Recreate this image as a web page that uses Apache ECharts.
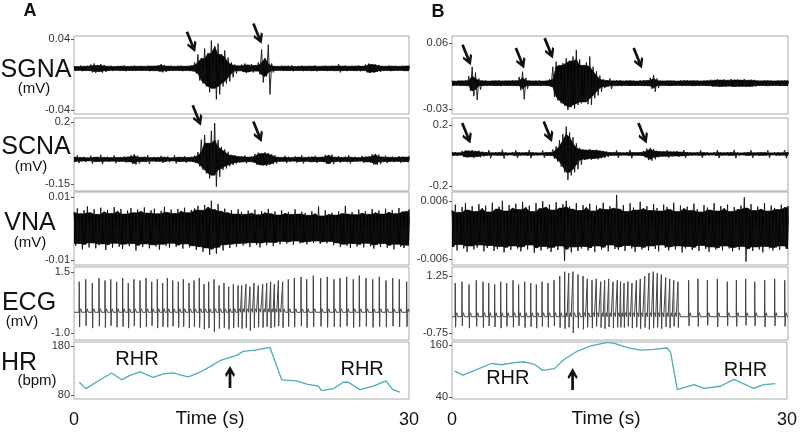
<!DOCTYPE html>
<html><head><meta charset="utf-8">
<script src="https://cdn.jsdelivr.net/npm/echarts@6/dist/echarts.min.js"></script>
<style>html,body{margin:0;padding:0;background:#fff}#c{width:800px;height:435px}</style>
</head><body><div id="c"></div>
<script>
// ---------- DATA ----------
const binStep = 0.3; // seconds between envelope samples (101 samples over 0..30 s)

// Panel A – nerve activity envelopes (mV), upper / lower edge per sample
const sgnaHiA = [.0098,.0092,.0104,.0095,.0100, .0115,.0126,.0104,.0120,.0110,
 .0096,.0102,.0092,.0100,.0097,.0104,.0093,.0099,.0102,.0095,
 .0100,.0094,.0103,.0097,.0099,.0105, .0120,.0110,
 .0097,.0101,.0094,.0100,.0103,.0096,.0099,.0105,
 .0138,.0228,.0183,.0295,.0239,.0386,.0318,.0352,.0228,.0273,.0194,.0138,.0115,
 .0100, .0115,.0126,.0110,.0120, .0104, .0138,.0284,.0183,.0340,.0126,
 .0098,.0094,.0102,.0096,.0100,.0105,.0093,.0099,.0103,.0095,.0100,.0097,.0104,.0094,.0099,.0102,.0096,.0100,.0098,
 .0120, .0097,.0103,.0095,.0100,.0098,.0104,.0096, .0115,.0126,.0120,.0115,.0110,
 .0099,.0095,.0103,.0097,.0100,.0094,.0102,.0098,.0100];
const sgnaLoA = [.0042,.0048,.0038,.0046,.0044, .0025,.0020,.0036,.0022,.0030,
 .0045,.0040,.0049,.0043,.0046,.0038,.0047,.0042,.0040,.0048,
 .0043,.0047,.0039,.0045,.0044,.0037, .0025,.0030,
 .0045,.0041,.0048,.0043,.0039,.0046,.0044,.0038,
 .0014,-.0065,-.0099,-.0133,-.0200,-.0155,-.0279,-.0223,-.0133,-.0099,-.0077,-.0031,.0014,
 .0043, .0030,.0020,.0030,.0025, .0040, .0002,-.0088,-.0020,-.0223,.0025,
 .0044,.0048,.0040,.0046,.0043,.0038,.0047,.0042,.0039,.0046,.0044,.0041,.0037,.0047,.0043,.0040,.0046,.0044,.0042,
 .0025, .0045,.0039,.0047,.0043,.0044,.0038,.0046, .0025,.0020,.0022,.0030,.0030,
 .0043,.0047,.0039,.0045,.0043,.0048,.0040,.0044,.0043];

const scnaHiA = [.002,.012,.000,.004,-.002,.010,.001,.003,.015,.000,
 .004,-.001,.011,.002,.000,.006,.003, .012,.018,.010,
 .001,.004,.013,-.001,.003,.000,.009,.002,.005,-.002,.012,.003,.001,.008,.000,.004,.010,
 .030,.100,.127,.080,.150,.193,.098,.060,.045,.032,.014,.012,.008,
 .004,.011,.002,.006, .020,.027,.022,.029,.025,.018,.012,
 .003,.000,.010,.004,-.001,.007,.002,.012,.000,.005,.003,.009,.001,.004,
 .015,.013,.016, .002,.008,.000,.005,.012,.001,.004,-.001,.009,.003,.006,
 .018,.020,.016, .003,.010,.001,.005,.000,.008,.004,.002,.006];
const scnaLoA = [-.024,-.032,-.021,-.026,-.020,-.035,-.023,-.025,-.038,-.022,
 -.026,-.021,-.033,-.024,-.022,-.028,-.025, -.036,-.040,-.034,
 -.023,-.027,-.036,-.021,-.025,-.022,-.031,-.024,-.027,-.020,-.034,-.025,-.023,-.030,-.022,-.026,-.032,
 -.050,-.070,-.090,-.118,-.100,-.165,-.109,-.070,-.062,-.050,-.043,-.035,-.030,
 -.026,-.033,-.024,-.028, -.040,-.043,-.045,-.048,-.042,-.038,-.034,
 -.025,-.022,-.032,-.026,-.021,-.029,-.024,-.034,-.022,-.027,-.025,-.031,-.023,-.026,
 -.037,-.035,-.038, -.024,-.030,-.022,-.027,-.034,-.023,-.026,-.021,-.031,-.025,-.028,
 -.040,-.042,-.038, -.025,-.032,-.023,-.027,-.022,-.030,-.026,-.024,-.028];

const vnaHiA = [.0052,.0064,.0047,.0058,.0070,.0050,.0061,.0045,.0066,.0053,
 .0059,.0048,.0068,.0055,.0062,.0046,.0057,.0065,.0050,.0060,
 .0054,.0067,.0049,.0058,.0063,.0047,.0056,.0069,.0051,.0060,
 .0048,.0062,.0055,.0066,.0050,.0059,.0064,.0072,.0058,.0075,
 .0068,.0088,.0060,.0078,.0055,.0063,.0050,.0058,.0046,.0061,
 .0053,.0045,.0057,.0049,.0060,.0044,.0055,.0050,.0062,.0047,
 .0054,.0043,.0058,.0048,.0052,.0045,.0061,.0046,.0053,.0049,
 .0042,.0055,.0047,.0070,.0040,.0058,.0045,.0050,.0043,.0054,
 .0048,.0072,.0046,.0052,.0044,.0060,.0049,.0055,.0045,.0062,
 .0050,.0057,.0046,.0063,.0052,.0058,.0047,.0065,.0053,.0056,.0060];
const vnaLoA = [-.0055,-.0048,-.0066,-.0051,-.0060,-.0046,-.0063,-.0053,-.0049,-.0068,
 -.0052,-.0061,-.0047,-.0058,-.0065,-.0050,-.0056,-.0048,-.0070,-.0054,
 -.0059,-.0049,-.0063,-.0052,-.0057,-.0067,-.0050,-.0055,-.0061,-.0047,
 -.0058,-.0053,-.0064,-.0049,-.0060,-.0055,-.0068,-.0058,-.0074,-.0062,
 -.0084,-.0066,-.0080,-.0060,-.0070,-.0052,-.0062,-.0050,-.0058,-.0048,
 -.0054,-.0047,-.0059,-.0045,-.0052,-.0060,-.0046,-.0053,-.0044,-.0056,
 -.0045,-.0050,-.0041,-.0048,-.0043,-.0052,-.0040,-.0047,-.0044,-.0050,
 -.0042,-.0046,-.0040,-.0049,-.0043,-.0047,-.0041,-.0053,-.0046,-.0058,
 -.0050,-.0055,-.0062,-.0048,-.0057,-.0051,-.0060,-.0047,-.0056,-.0064,
 -.0052,-.0059,-.0048,-.0061,-.0054,-.0066,-.0050,-.0058,-.0062,-.0053,-.0057];

// Panel B – nerve activity envelopes (mV)
const sgnaHiB = [.0090,.0085,.0095,.0088,.0092, .0150,.0280,.0200,.0120,
 .0090,.0096,.0086,.0093,.0089,.0097,.0087,.0092,.0088,.0095,.0090,
 .0140,.0213,.0130, .0094,.0087,.0091,.0098,.0086,.0092,.0110,
 .0280,.0350,.0300,.0330,.0396,.0360,.0420,.0510,.0380,.0300,.0340,.0420,.0280,.0220,.0160,
 .0110,.0095,.0120,.0088,.0093,.0100,.0087,.0096,.0090,.0094,.0086,.0098,.0091,.0095,
 .0130,.0168,.0120,
 .0092,.0087,.0095,.0089,.0093,.0086,.0097,.0090,.0094,.0088,.0092,.0096,.0087,.0093,.0090,
 .0105,.0098,.0110,.0100,.0108,.0096,.0112,.0101,.0106,.0099,.0110,.0097,.0104,.0102,
 .0092,.0088,.0095,.0090,.0093,.0087,.0096,.0089,.0092,.0090];
const sgnaLoB = [.0022,.0027,.0018,.0024,.0020, -.0050,-.0120,-.0173,-.0030,
 .0022,.0017,.0026,.0020,.0023,.0016,.0025,.0021,.0024,.0018,.0022,
 -.0040,-.0164,-.0020, .0019,.0025,.0021,.0016,.0026,.0020,.0005,
 -.0128,-.0180,-.0218,-.0250,-.0310,-.0270,-.0290,-.0240,-.0220,-.0200,-.0230,-.0240,-.0150,-.0110,-.0060,
 -.0010,.0010,-.0020,.0022,.0018,.0015,.0025,.0019,.0023,.0017,.0024,.0020,.0022,.0018,
 -.0020,-.0060,-.0010,
 .0021,.0025,.0018,.0023,.0020,.0026,.0017,.0022,.0024,.0019,.0021,.0016,.0025,.0020,.0022,
 .0010,.0015,.0005,.0012,.0008,.0016,.0004,.0011,.0007,.0014,.0006,.0013,.0009,.0012,
 .0020,.0024,.0018,.0022,.0019,.0025,.0021,.0023,.0018,.0022];

const scnaHiB = [.020,.022,.018,.030, .032,.030,.036,.028,.032,.025,
 .020,.035,.018,.022,.019,.038,.021,.017,.023,.034,.020,.018,.022,.036,.019,.021,.017,.033,.022,.020,.040,
 .060,.100,.140,.189,.150,.120,.080,.050,
 .040,.036,.042,.034,.038,.032,.030,.026,
 .022,.019,.034,.021,.018,.023,.037,.020,.019,.022,
 .030,.045,.050,.042,.030,
 .028,.025,.034,.026,.024,.029,.023,.036,.021,
 .020,.018,.022,.035,.019,.021,.017,.023,.036,.020,.018,.022,.019,.037,.021,
 .017,.023,.020,.035,.018,.022,.019,.021,.034,.017,.023,.020,.018,.036,.021];
const scnaLoB = [.000,-.003,.002,-.010, -.012,-.010,-.016,-.008,-.012,-.006,
 .000,-.018,.002,-.002,.001,-.020,-.001,.003,-.003,-.016,.000,.002,-.002,-.018,.001,-.001,.003,-.015,-.002,.000,-.020,
 -.040,-.073,-.110,-.160,-.130,-.110,-.090,-.060,
 -.030,-.024,-.028,-.020,-.025,-.018,-.015,-.010,
 -.002,.001,-.016,-.001,.002,-.003,-.018,.000,.001,-.002,
 -.012,-.030,-.034,-.025,-.012,
 -.008,-.005,-.015,-.006,-.004,-.010,-.003,-.016,-.001,
 .000,.002,-.002,-.016,.001,-.001,.003,-.003,-.017,.000,.002,-.002,.001,-.018,-.001,
 .003,-.003,.000,-.016,.002,-.002,.001,-.001,-.015,.003,-.003,.000,.002,-.017,-.001];

const vnaHiB = [.0040,.0052,.0036,.0047,.0055,.0041,.0049,.0038,.0053,.0044,
 .0050,.0037,.0056,.0043,.0048,.0060,.0039,.0051,.0045,.0054,
 .0042,.0058,.0046,.0050,.0038,.0055,.0044,.0059,.0047,.0052,
 .0041,.0057,.0045,.0053,.0060,.0048,.0043,.0055,.0040,.0051,
 .0046,.0054,.0039,.0050,.0044,.0056,.0042,.0049,.0045,.0072,
 .0043,.0051,.0038,.0055,.0046,.0041,.0058,.0044,.0049,.0040,
 .0053,.0045,.0039,.0052,.0047,.0042,.0056,.0038,.0050,.0044,
 .0048,.0040,.0054,.0043,.0037,.0051,.0046,.0041,.0055,.0039,
 .0049,.0044,.0052,.0038,.0047,.0042,.0050,.0067,.0045,.0053,
 .0040,.0048,.0043,.0055,.0039,.0050,.0045,.0042,.0052,.0046,.0049];
const vnaLoB = [-.0035,-.0042,-.0030,-.0038,-.0045,-.0033,-.0040,-.0036,-.0031,-.0044,
 -.0037,-.0032,-.0043,-.0039,-.0034,-.0046,-.0036,-.0041,-.0033,-.0038,
 -.0044,-.0035,-.0040,-.0031,-.0047,-.0037,-.0042,-.0034,-.0039,-.0045,
 -.0036,-.0041,-.0033,-.0063,-.0040,-.0046,-.0035,-.0043,-.0038,-.0034,
 -.0042,-.0037,-.0045,-.0033,-.0040,-.0036,-.0044,-.0031,-.0039,-.0041,
 -.0035,-.0043,-.0032,-.0038,-.0045,-.0034,-.0040,-.0036,-.0042,-.0033,
 -.0039,-.0044,-.0031,-.0037,-.0042,-.0035,-.0040,-.0033,-.0046,-.0038,
 -.0034,-.0041,-.0036,-.0043,-.0032,-.0039,-.0045,-.0035,-.0040,-.0037,
 -.0042,-.0033,-.0038,-.0044,-.0036,-.0041,-.0034,-.0065,-.0039,-.0043,
 -.0035,-.0040,-.0046,-.0034,-.0038,-.0042,-.0036,-.0041,-.0033,-.0039,-.0044];

// ECG beats: R-wave times (s), R peak and S trough amplitudes (mV)
const ecgTimesA = [0.47,1.05,1.64,2.24,2.78,3.29,3.82,4.36,4.86,5.37,
 5.91,6.45,6.96,7.46,7.94,8.36,8.84,9.34,9.79,10.30,
 10.75,11.22,11.64,12.06,12.54,12.99,13.43,13.85,14.27,14.69,
 15.02,15.40,15.76,16.12,16.50,16.90,17.26,17.61,17.94,18.30,
 18.69,19.19,19.73,20.33,20.84,21.43,22.09,22.68,23.28,23.82,
 24.42,25.01,25.55,26.15,26.75,27.34,27.94,28.54,29.13,29.79];
const ecgPeaksA = [1.10,1.20,1.05,1.25,1.15,1.20,1.10,1.25,1.05,1.20,
 1.15,1.25,1.10,1.20,1.05,1.25,1.15,1.10,1.20,1.05,
 1.15,1.25,1.00,1.10,1.20,0.95,1.05,0.90,1.00,0.95,
 0.95,1.00,0.90,1.05,0.95,1.00,1.05,1.10,1.00,1.15,
 1.10,1.20,1.25,1.30,1.20,1.35,1.25,1.30,1.20,1.25,
 1.30,1.20,1.35,1.25,1.20,1.30,1.15,1.25,1.20,1.10];
const ecgTroughsA = [-0.75,-0.70,-0.80,-0.72,-0.78,-0.70,-0.76,-0.74,-0.80,-0.72,
 -0.78,-0.75,-0.70,-0.80,-0.74,-0.76,-0.72,-0.78,-0.75,-0.80,
 -0.74,-0.78,-0.85,-0.80,-0.95,-0.82,-0.78,-0.85,-0.80,-0.76,
 -0.82,-0.78,-0.90,-0.80,-0.76,-0.78,-0.74,-0.80,-0.76,-0.72,
 -0.78,-0.74,-0.76,-0.72,-0.78,-0.75,-0.73,-0.77,-0.74,-0.76,
 -0.72,-0.78,-0.75,-0.73,-0.77,-0.74,-0.76,-0.72,-0.75,-0.74];
const ecgBaseA = -0.15;

const ecgTimesB = [0.29,0.89,1.52,2.17,2.77,3.28,3.81,4.35,4.88,5.45,
 5.95,6.49,7.03,7.53,8.04,8.57,9.11,9.62,10.06,10.42,
 10.80,11.25,11.70,12.08,12.50,12.88,13.28,13.63,13.99,14.38,
 14.76,15.05,15.36,15.71,16.07,16.46,16.81,17.21,17.59,17.97,
 18.33,18.69,19.08,19.44,19.80,20.18,21.13,21.96,22.80,23.69,
 24.58,25.39,26.22,27.03,27.92,28.81,29.71];
const ecgPeaksB = [1.00,1.05,0.95,1.10,1.05,1.00,0.95,1.05,1.00,1.10,
 0.95,1.05,1.00,0.95,1.05,1.00,1.10,1.25,1.40,1.35,
 1.40,1.30,1.25,1.15,1.10,1.15,1.05,1.10,1.15,1.05,
 1.10,1.05,1.00,1.05,1.00,1.10,1.15,1.25,1.35,1.40,
 1.35,1.30,1.20,1.15,1.10,1.05,1.10,1.15,1.10,1.15,
 1.05,1.10,1.15,1.05,1.10,1.15,1.10];
const ecgTroughsB = [-0.55,-0.50,-0.58,-0.52,-0.56,-0.50,-0.54,-0.58,-0.52,-0.55,
 -0.50,-0.56,-0.53,-0.58,-0.52,-0.55,-0.50,-0.56,-0.60,-0.55,
 -0.75,-0.58,-0.62,-0.55,-0.58,-0.52,-0.56,-0.60,-0.54,-0.58,
 -0.55,-0.55,-0.56,-0.52,-0.58,-0.55,-0.60,-0.56,-0.62,-0.58,
 -0.55,-0.60,-0.54,-0.58,-0.52,-0.56,-0.50,-0.52,-0.48,-0.54,
 -0.50,-0.52,-0.48,-0.50,-0.54,-0.50,-0.52];
const ecgBaseB = -0.18;

// Heart rate (bpm) vs time (s)
const hrTimesA = [0.47,1.07,2.33,3.38,4.27,5.01,5.91,7.10,8.00,8.89,9.49,10.24,11.13,12.18,13.07,13.97,14.57,15.16,16.36,17.55,18.60,19.94,20.84,21.88,22.18,23.22,24.12,24.56,25.61,26.80,27.94,28.54,29.19];
const hrValuesA = [106,93,111,125,111,120,127,116,123,125,121,117,125,138,150,157,161,169,172,177,111,109,102,98,89,93,106,106,91,98,109,91,86];
const hrTimesB = [0.24,0.98,2.03,3.51,4.40,5.60,6.49,7.38,8.13,9.17,10.06,11.25,12.44,13.93,14.53,15.72,16.90,18.10,19.29,19.58,20.18,21.67,22.56,24.05,25.24,27.03,27.92,28.96];
const hrValuesB = [100,91,102,118,115,120,122,116,102,106,128,147,159,167,165,155,149,151,154,143,57,69,60,65,81,60,69,71];

// Annotations: [time (s), value]
const sgnaArrowsA = [[10.48,0.037],[16.43,0.0464]];
const scnaArrowsA = [[11.0,0.237],[16.43,0.145]];
const sgnaArrowsB = [[1.31,0.044],[6.07,0.0396],[8.64,0.0532],[16.59,0.0396]];
const scnaArrowsB = [[1.28,0.146],[8.56,0.156],[17.01,0.146]];
const hrArrowA = [[13.97,116.7]];
const hrArrowB = [[10.80,81.6]];
const rhrLabelsA = [[5.64,152.4],[25.8,132]];
const rhrLabelsB = [[5.0,82.8],[26.28,102.4]];

// Tick labels
const timeTicks = [0, 30];
const yTicksA = [[-0.04,0.04],[-0.15,0.2],[-0.01,0.01],[-1.0,1.5],[80,180]];
const yTickTextA = [['-0.04','0.04'],['-0.15','0.2'],['-0.01','0.01'],['-1.0','1.5'],['80','180']];
const yTicksB = [[-0.03,0.06],[-0.2,0.2],[-0.006,0.006],[-0.75,1.25],[40,160]];
const yTickTextB = [['-0.03','0.06'],['-0.2','0.2'],['-0.006','0.006'],['-0.75','1.25'],['40','160']];
const rowNames = ['SGNA','SCNA','VNA','ECG','HR'];
const rowUnits = ['(mV)','(mV)','(mV)','(mV)','(bpm)'];

// ---------- LAYOUT ----------
const FONT = '"Liberation Sans", Arial, sans-serif';
const rows = [ {top:36,h:78},{top:118,h:73},{top:192,h:73},{top:267,h:73},{top:342,h:57} ];
const panels = [{left:74,width:335},{left:452,width:336}];
const yRangeA = [[-0.0445,0.0437],[-0.1895,0.2226],[-0.0116,0.0116],[-1.287,1.705],[71.8,188.2]];
const yRangeB = [[-0.0364,0.070],[-0.233,0.246],[-0.0072,0.0078],[-0.996,1.566],[35.3,168]];

const grids=[], xAxes=[], yAxes=[], series=[];
[0,1].forEach(p=>{
  rows.forEach((r,ri)=>{
    const idx = p*5+ri;
    grids.push({left:panels[p].left, width:panels[p].width, top:r.top, height:r.h,
      show:true, borderColor:'#a9a9a9', borderWidth:1, backgroundColor:'#fff'});
    const isHR = ri===4;
    xAxes.push({type:'value', gridIndex:idx, min:0, max:30,
      show:isHR, axisLine:{show:false}, axisTick:{show:false}, splitLine:{show:false},
      axisLabel:{show:isHR, customValues:timeTicks, fontSize:18, color:'#111', fontFamily:FONT, margin:12}});
    const rng = p===0 ? yRangeA[ri] : yRangeB[ri];
    const tv = p===0 ? yTicksA[ri] : yTicksB[ri];
    const tt = p===0 ? yTickTextA[ri] : yTickTextB[ri];
    yAxes.push({type:'value', gridIndex:idx, min:rng[0], max:rng[1],
      axisLine:{show:false}, splitLine:{show:false},
      axisTick:{show:true, customValues:tv, length:3, lineStyle:{color:'#555'}},
      axisLabel:{customValues:tv, fontSize:11, color:'#333', fontFamily:FONT, margin:4,
        formatter:(v)=>{ const k = tv.findIndex(x=>Math.abs(x-v)<1e-9); return k>=0?tt[k]:''; }}});
  });
});

// Envelope: a solid core (local minimum of the envelope) plus the trace reaching each sample's edges
function band(idx, hi, lo){
  const n = hi.length;
  const core = hi.map((v,i)=>{
    const a = Math.max(0,i-1), b = Math.min(n-1,i+1);
    return [i*binStep, Math.max(lo[a],lo[i],lo[b]), Math.min(hi[a],hi[i],hi[b])];
  });
  series.push({type:'custom', xAxisIndex:idx, yAxisIndex:idx, silent:true, animation:false, clip:true,
    encode:{x:0, y:[1,2]}, data:core,
    renderItem:(params, api)=>{
      const i = params.dataIndex;
      if (i >= core.length-1) return null;
      const p = core[i], q = core[i+1];
      const pts = [api.coord([p[0],p[2]]), api.coord([q[0],q[2]]), api.coord([q[0],q[1]]), api.coord([p[0],p[1]])];
      return {type:'polygon', shape:{points:pts}, style:{fill:'#000', stroke:'#000', lineWidth:0.5}};
    }});
  const pts = [];
  hi.forEach((v,i)=>{ pts.push([i*binStep, v]); pts.push([i*binStep + binStep/2, lo[i]]); });
  series.push({type:'line', xAxisIndex:idx, yAxisIndex:idx, symbol:'none', silent:true, animation:false,
    lineStyle:{width:0.9, color:'#111'}, data:pts});
}
band(0, sgnaHiA, sgnaLoA); band(1, scnaHiA, scnaLoA); band(2, vnaHiA, vnaLoA);
band(5, sgnaHiB, sgnaLoB); band(6, scnaHiB, scnaLoB); band(7, vnaHiB, vnaLoB);

function ecg(idx, times, peaks, troughs, base){
  const pts=[[0,base]];
  times.forEach((t,k)=>{
    pts.push([t-0.02,base],[t,peaks[k]],[t+0.03,troughs[k]],[t+0.06,base+0.05],[t+0.14,base+0.14],[t+0.22,base]);
  });
  pts.push([30,base]);
  series.push({type:'line', xAxisIndex:idx, yAxisIndex:idx, symbol:'none', silent:true, animation:false,
    lineStyle:{width:1,color:'#444'}, data:pts});
}
ecg(3, ecgTimesA, ecgPeaksA, ecgTroughsA, ecgBaseA);
ecg(8, ecgTimesB, ecgPeaksB, ecgTroughsB, ecgBaseB);

function hr(idx, ts, vs){
  series.push({type:'line', xAxisIndex:idx, yAxisIndex:idx, symbol:'none', silent:true, animation:false,
    lineStyle:{width:1.3,color:'#4fabb6'}, data: ts.map((t,i)=>[t, vs[i]])});
}
hr(4, hrTimesA, hrValuesA); hr(9, hrTimesB, hrValuesB);

const ARROW = 'path://M3.5,0L6.5,0L6.5,13.5L9,10L10.5,12L5,20L-0.5,12L1,10L3.5,13.5Z';
function arrows(idx, pts, rot){
  series.push({type:'scatter', xAxisIndex:idx, yAxisIndex:idx, clip:false, silent:true, animation:false,
    symbol:ARROW, symbolSize:[10,22], symbolRotate:rot, itemStyle:{color:'#111', opacity:1}, z:10, data:pts});
}
arrows(0, sgnaArrowsA, 22); arrows(1, scnaArrowsA, 22);
arrows(5, sgnaArrowsB, 22); arrows(6, scnaArrowsB, 22);
arrows(4, hrArrowA, 180); arrows(9, hrArrowB, 180);

function labels(idx, pts, text){
  series.push({type:'scatter', xAxisIndex:idx, yAxisIndex:idx, clip:false, silent:true, animation:false,
    symbolSize:0.1, itemStyle:{color:'#fff', opacity:1}, z:10,
    label:{show:true, position:'inside', formatter:text, fontSize:20, color:'#111', opacity:1, fontFamily:FONT},
    data:pts});
}
labels(4, rhrLabelsA, 'RHR'); labels(9, rhrLabelsB, 'RHR');

// Row titles and panel letters
const titlePos = [[36,70.5,34,89],[36,147,31,167],[30,223,30,243],[29,303,22,322],[19,363,37,381]];
const graphics = [];
rowNames.forEach((n,i)=>{
  graphics.push({type:'text', style:{text:n, x:titlePos[i][0], y:titlePos[i][1], font:'25px '+FONT, fill:'#111', textAlign:'center', textVerticalAlign:'middle'}});
  graphics.push({type:'text', style:{text:rowUnits[i], x:titlePos[i][2], y:titlePos[i][3], font:'15px '+FONT, fill:'#111', textAlign:'center', textVerticalAlign:'middle'}});
});
graphics.push({type:'text', style:{text:'A', x:30, y:11, font:'bold 18px '+FONT, fill:'#111', textAlign:'center', textVerticalAlign:'middle'}});
graphics.push({type:'text', style:{text:'B', x:438, y:12, font:'bold 18px '+FONT, fill:'#111', textAlign:'center', textVerticalAlign:'middle'}});
graphics.push({type:'text', style:{text:'Time (s)', x:210, y:419, font:'19px '+FONT, fill:'#111', textAlign:'center', textVerticalAlign:'middle'}});
graphics.push({type:'text', style:{text:'Time (s)', x:606, y:419, font:'19px '+FONT, fill:'#111', textAlign:'center', textVerticalAlign:'middle'}});

const chart = echarts.init(document.getElementById('c'), null, {renderer:'canvas'});
chart.setOption({animation:false, backgroundColor:'#fff', grid:grids, xAxis:xAxes, yAxis:yAxes, series:series, graphic:graphics});
</script>
</body></html>
